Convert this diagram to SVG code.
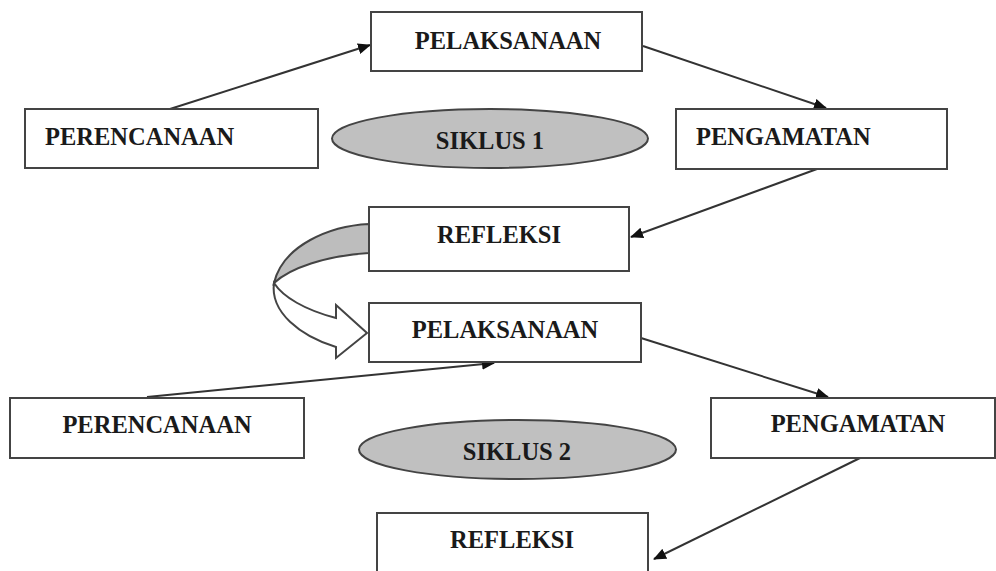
<svg xmlns="http://www.w3.org/2000/svg" width="996" height="571" viewBox="0 0 996 571">
<defs>
<style>
.box{fill:#fff;stroke:#444;stroke-width:2}
.ell{fill:#c0c0c0;stroke:#444;stroke-width:2}
.t{font-family:"Liberation Serif","Times New Roman",serif;font-weight:bold;font-size:24.5px;fill:#1a1a1a}
.c{text-anchor:middle}
.ln{fill:none;stroke:#333;stroke-width:2;marker-end:url(#ah)}
</style>
<marker id="ah" viewBox="0 0 13 11" refX="12" refY="5.5" markerWidth="13" markerHeight="11" markerUnits="userSpaceOnUse" orient="auto">
<path d="M0,0 L13,5.5 L0,11 Z" fill="#111"/>
</marker>
</defs>
<rect width="996" height="571" fill="#fff"/>
<g id="connectors">
<line class="ln" x1="170" y1="109" x2="370" y2="45"/>
<line class="ln" x1="643" y1="46" x2="826" y2="108"/>
<line class="ln" x1="817" y1="169" x2="631" y2="237"/>
<line class="ln" x1="147" y1="397" x2="494" y2="363"/>
<line class="ln" x1="641" y1="338" x2="828" y2="397"/>
<line class="ln" x1="860" y1="458" x2="654" y2="559"/>
<g id="curved-arrow">
<path d="M369 224 C330 226,283 245,274 283 C290 268,325 256,369 253 Z" fill="#bdbdbd" stroke="#444" stroke-width="2"/>
<path d="M274 283 C270 312,300 336,336 347 L336 358 L367 333 L336 305 L336 318 C305 310,283 297,274 283 Z" fill="#fff" stroke="#444" stroke-width="2"/>
</g>
</g>
<g id="pelaksanaan1"><rect class="box" x="371" y="12" width="271" height="59"/><text class="t c" x="508" y="49">PELAKSANAAN</text></g>
<g id="perencanaan1"><rect class="box" x="25" y="109" width="293" height="59"/><text class="t" x="45" y="145">PERENCANAAN</text></g>
<g id="siklus1"><ellipse class="ell" cx="490" cy="138.5" rx="158" ry="29.5"/><text class="t c" x="490" y="149">SIKLUS 1</text></g>
<g id="pengamatan1"><rect class="box" x="676" y="109" width="271" height="60"/><text class="t" x="696" y="145">PENGAMATAN</text></g>
<g id="refleksi1"><rect class="box" x="369" y="207" width="260" height="64"/><text class="t c" x="499" y="243">REFLEKSI</text></g>
<g id="pelaksanaan2"><rect class="box" x="369" y="303" width="272" height="59"/><text class="t c" x="505" y="338">PELAKSANAAN</text></g>
<g id="perencanaan2"><rect class="box" x="10" y="398" width="294" height="60"/><text class="t c" x="157" y="433">PERENCANAAN</text></g>
<g id="siklus2"><ellipse class="ell" cx="517.5" cy="449.5" rx="158.5" ry="29.5"/><text class="t c" x="517" y="460">SIKLUS 2</text></g>
<g id="pengamatan2"><rect class="box" x="711" y="398" width="284" height="60"/><text class="t c" x="858" y="432">PENGAMATAN</text></g>
<g id="refleksi2"><rect class="box" x="377" y="513" width="271" height="62"/><text class="t c" x="512" y="548">REFLEKSI</text></g>
</svg>
